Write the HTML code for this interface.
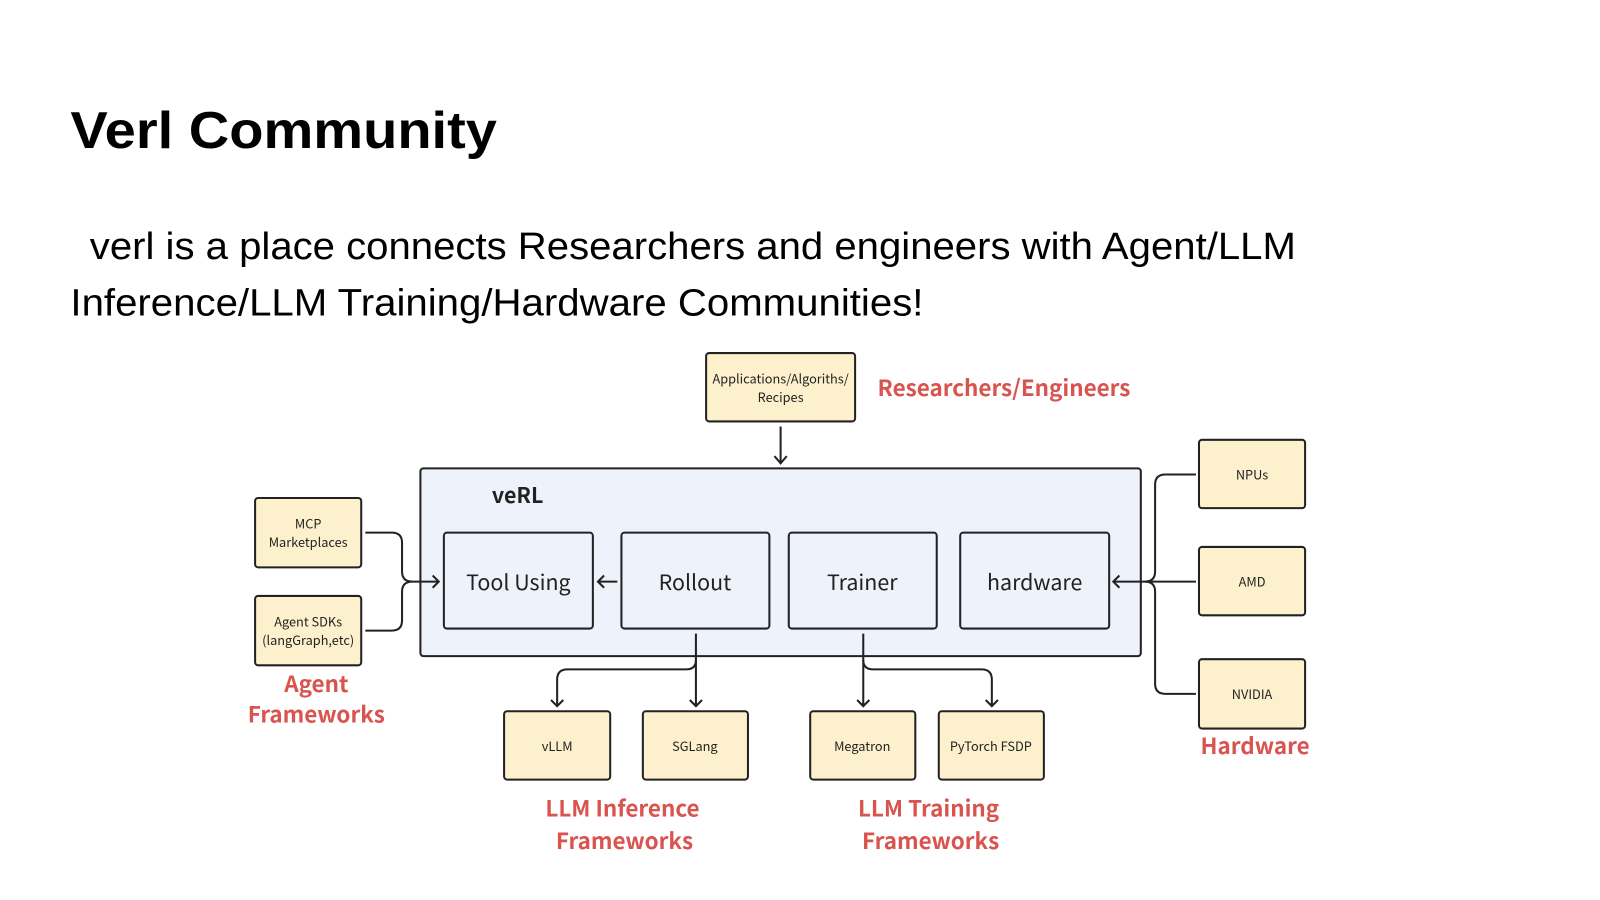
<!DOCTYPE html>
<html><head><meta charset="utf-8"><style>
html,body{margin:0;padding:0;background:#fff;width:1600px;height:900px;overflow:hidden}
svg{display:block}
.t{font-family:"Liberation Sans",Arial,sans-serif;fill:#000}
.d{font-family:"Noto Sans CJK SC","Liberation Sans",sans-serif;fill:#222}
.r{font-family:"Noto Sans CJK SC","Liberation Sans",sans-serif;fill:#d9534f;font-weight:bold;font-size:22px}
.y{fill:#fdf0cc;stroke:#222;stroke-width:2}
.b{fill:#eef2fb;stroke:#222;stroke-width:2}
.l{fill:none;stroke:#222;stroke-width:2}
</style></head><body>
<svg width="1600" height="900" viewBox="0 0 1568 882" xmlns="http://www.w3.org/2000/svg">
<text class="t" x="69" y="145" font-size="51" font-weight="bold" textLength="418" lengthAdjust="spacingAndGlyphs">Verl Community</text>
<text class="t" x="88" y="254" font-size="37" textLength="1182" lengthAdjust="spacingAndGlyphs">verl is a place connects Researchers and engineers with Agent/LLM</text>
<text class="t" x="69" y="309" font-size="37" textLength="836" lengthAdjust="spacingAndGlyphs">Inference/LLM Training/Hardware Communities!</text>

<rect class="y" x="692" y="346" width="146" height="67" rx="3"/>
<text class="d" x="765" y="376" font-size="12.5" text-anchor="middle">Applications/Algoriths/</text>
<text class="d" x="765" y="394" font-size="12.5" text-anchor="middle">Recipes</text>
<text class="r" x="860" y="388">Researchers/Engineers</text>
<path class="l" d="M765 418 V454 M759 447 L765 454 L771 447"/>

<rect class="b" x="412" y="459" width="706" height="184" rx="3"/>
<text class="d" x="482" y="493" font-size="21" font-weight="bold">veRL</text>
<rect class="b" x="435" y="522" width="146" height="94" rx="3"/>
<rect class="b" x="609" y="522" width="145" height="94" rx="3"/>
<rect class="b" x="773" y="522" width="145" height="94" rx="3"/>
<rect class="b" x="941" y="522" width="146" height="94" rx="3"/>
<text class="d" x="508" y="578" font-size="21" text-anchor="middle">Tool Using</text>
<text class="d" x="681" y="578" font-size="21" text-anchor="middle">Rollout</text>
<text class="d" x="845" y="578" font-size="21" text-anchor="middle">Trainer</text>
<text class="d" x="1014" y="578" font-size="21" text-anchor="middle">hardware</text>
<path class="l" d="M605 570 H586 M592 564 L586 570 L592 576"/>

<rect class="y" x="250" y="488" width="104" height="68" rx="3"/>
<text class="d" x="302" y="518" font-size="12.5" text-anchor="middle">MCP</text>
<text class="d" x="302" y="536" font-size="12.5" text-anchor="middle">Marketplaces</text>
<rect class="y" x="250" y="584" width="104" height="68" rx="3"/>
<text class="d" x="302" y="614" font-size="12.5" text-anchor="middle">Agent SDKs</text>
<text class="d" x="302" y="632" font-size="12.5" text-anchor="middle">(langGraph,etc)</text>
<path class="l" d="M358 522 H384 Q394 522 394 532 V560 Q394 570 404 570 H430 M424 564 L430 570 L424 576"/>
<path class="l" d="M358 618 H384 Q394 618 394 608 V580 Q394 570 404 570"/>
<text class="r" x="310" y="678" text-anchor="middle">Agent</text>
<text class="r" x="310" y="708" text-anchor="middle">Frameworks</text>

<rect class="y" x="1175" y="431" width="104" height="67" rx="3"/>
<text class="d" x="1227" y="470" font-size="12.5" text-anchor="middle">NPUs</text>
<rect class="y" x="1175" y="536" width="104" height="67" rx="3"/>
<text class="d" x="1227" y="575" font-size="12.5" text-anchor="middle">AMD</text>
<rect class="y" x="1175" y="646" width="104" height="68" rx="3"/>
<text class="d" x="1227" y="685" font-size="12.5" text-anchor="middle">NVIDIA</text>
<path class="l" d="M1172 465 H1142 Q1132 465 1132 475 V560 Q1132 570 1122 570 H1091 M1097 564 L1091 570 L1097 576"/>
<path class="l" d="M1172 570 H1122"/>
<path class="l" d="M1172 680 H1142 Q1132 680 1132 670 V580 Q1132 570 1122 570"/>
<text class="r" x="1230" y="739" text-anchor="middle">Hardware</text>

<rect class="y" x="494" y="697" width="104" height="67" rx="3"/>
<text class="d" x="546" y="736" font-size="12.5" text-anchor="middle">vLLM</text>
<rect class="y" x="630" y="697" width="103" height="67" rx="3"/>
<text class="d" x="681" y="736" font-size="12.5" text-anchor="middle">SGLang</text>
<rect class="y" x="794" y="697" width="103" height="67" rx="3"/>
<text class="d" x="845" y="736" font-size="12.5" text-anchor="middle">Megatron</text>
<rect class="y" x="920" y="697" width="103" height="67" rx="3"/>
<text class="d" x="971" y="736" font-size="12.5" text-anchor="middle">PyTorch FSDP</text>
<path class="l" d="M682 621 V692 M676 686 L682 692 L688 686"/>
<path class="l" d="M682 647 Q682 656 672 656 H556 Q546 656 546 666 V692 M540 686 L546 692 L552 686"/>
<path class="l" d="M846 621 V692 M840 686 L846 692 L852 686"/>
<path class="l" d="M846 647 Q846 656 856 656 H962 Q972 656 972 666 V692 M966 686 L972 692 L978 686"/>
<text class="r" x="610" y="800" text-anchor="middle">LLM Inference</text>
<text class="r" x="612" y="832" text-anchor="middle">Frameworks</text>
<text class="r" x="910" y="800" text-anchor="middle">LLM Training</text>
<text class="r" x="912" y="832" text-anchor="middle">Frameworks</text>
</svg>
</body></html>
